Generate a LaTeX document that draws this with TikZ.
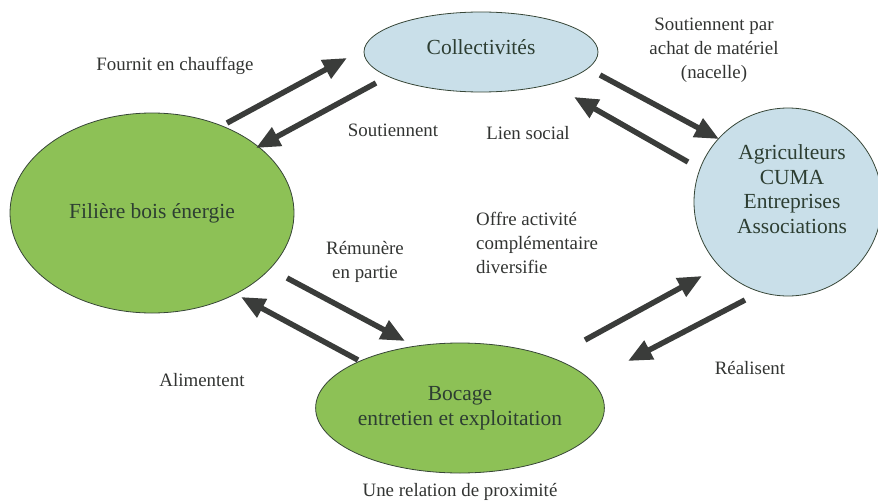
\documentclass[tikz,border=0pt]{standalone}
\usepackage{fontspec}
\setmainfont{Liberation Serif}
\newfontfamily\diagfont{Liberation Serif}
\usetikzlibrary{shapes.geometric,arrows.meta}
\definecolor{grfill}{RGB}{141,193,86}
\definecolor{blfill}{RGB}{201,223,233}
\definecolor{edgec}{RGB}{55,70,55}
\definecolor{nodetxt}{RGB}{45,62,50}
\definecolor{labtxt}{RGB}{50,52,50}
\definecolor{arrc}{RGB}{58,60,58}
\tikzset{
  greenell/.style={ellipse,draw=edgec,line width=0.8pt,fill=grfill,text=nodetxt,font=\diagfont\fontsize{21.5}{25}\selectfont,align=center,inner sep=0pt},
  blueell/.style={ellipse,draw=edgec,line width=0.8pt,fill=blfill,text=nodetxt,font=\diagfont\fontsize{21.5}{25}\selectfont,align=center,inner sep=0pt},
  ntext/.style={text=nodetxt,font=\diagfont\fontsize{21.5}{24.5}\selectfont,align=center},
  lab/.style={text=labtxt,font=\diagfont\fontsize{18.9}{24}\selectfont,align=center,inner sep=0pt},
  arr/.style={draw=arrc,line width=5.5pt,-{Triangle[length=24pt,width=20pt]}}
}
\begin{document}
\begin{tikzpicture}[x=1pt,y=-1pt]
\useasboundingbox (0,0) rectangle (878,503);
\node[blueell,minimum width=234pt,minimum height=80pt] (coll) at (481,52) {};
\node[ntext] (colltxt) at (481,47) {Collectivités};
\node[greenell,minimum width=284pt,minimum height=200pt] (fil) at (152,213) {Filière bois énergie};
\node[blueell,circle,minimum size=188pt] (agr) at (788,202) {};
\node[ntext] (agrtxt) at (792,189) {Agriculteurs\\CUMA\\Entreprises\\Associations};
\node[greenell,minimum width=284pt,minimum height=130pt] (boc) at (460,408) {Bocage\\entretien et exploitation};

\coordinate (a1s) at (227,123); \coordinate (a1e) at (347,58);
\coordinate (a2s) at (376,83);  \coordinate (a2e) at (256,148);
\coordinate (a3s) at (600,75);  \coordinate (a3e) at (719,139);
\coordinate (a4s) at (688,162); \coordinate (a4e) at (574,97);
\coordinate (a5s) at (287,278); \coordinate (a5e) at (405,341);
\coordinate (a6s) at (358,360); \coordinate (a6e) at (241,297);
\coordinate (a7s) at (585,340); \coordinate (a7e) at (702,276);
\coordinate (a8s) at (745,300); \coordinate (a8e) at (628,361);
\foreach \i in {1,...,8} {\draw[arr] (a\i s) -- (a\i e);}

\node[lab] (l1) at (175,66) {Fournit en chauffage};
\node[lab] (l2) at (393,130) {Soutiennent};
\node[lab] (l3) at (714,50) {Soutiennent par\\achat de matériel\\(nacelle)};
\node[lab] (l4) at (528,133) {Lien social};
\node[lab,align=left,anchor=west] (l5) at (476,243) {Offre activité\\complémentaire\\diversifie};
\node[lab] (l6) at (365,262) {Rémunère\\en partie};
\node[lab] (l7) at (202,380) {Alimentent};
\node[lab] (l8) at (750,368) {Réalisent};
\node[lab] (l9) at (460,492) {Une relation de proximité};
\end{tikzpicture}
\end{document}
